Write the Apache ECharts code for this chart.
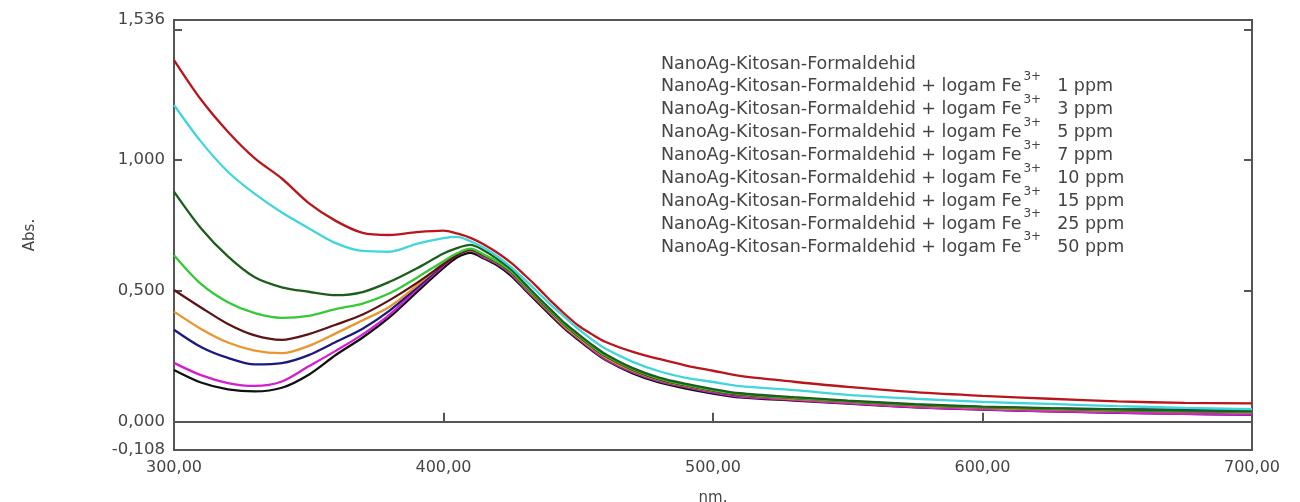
<!DOCTYPE html>
<html>
<head>
<meta charset="utf-8">
<title>Abs. vs nm</title>
<script src="https://cdn.jsdelivr.net/npm/echarts@6/dist/echarts.min.js"></script>
<style>
  html, body { margin: 0; padding: 0; background: #fff; }
  #main { width: 1300px; height: 502px; }
</style>
</head>
<body>
<div id="main"></div>
<script>
// panjang gelombang (nm)
var NM = [300, 310, 320, 330, 340, 350, 360, 370, 380, 390, 400,
  405, 410, 415, 420, 425, 430, 435, 440, 445, 450, 455, 460,
  470, 480, 490, 500, 510,
  530, 550, 575, 600, 625, 650, 675, 700];

// absorbansi tiap sampel
var BASE = [0.198, 0.150, 0.124, 0.116, 0.130, 0.180, 0.255, 0.322, 0.400, 0.495, 0.588,
  0.628, 0.646, 0.624, 0.597, 0.559, 0.507, 0.455, 0.404, 0.355, 0.313, 0.273, 0.237,
  0.186, 0.150, 0.127, 0.108, 0.093,
  0.081, 0.069, 0.055, 0.046, 0.040, 0.034, 0.030, 0.026];
var PPM1 = [0.225, 0.178, 0.148, 0.137, 0.154, 0.212, 0.271, 0.334, 0.410, 0.505, 0.597,
  0.637, 0.655, 0.628, 0.603, 0.565, 0.512, 0.461, 0.410, 0.360, 0.318, 0.277, 0.240,
  0.190, 0.155, 0.132, 0.112, 0.096,
  0.084, 0.071, 0.056, 0.047, 0.040, 0.035, 0.030, 0.027];
var PPM3 = [0.352, 0.286, 0.244, 0.219, 0.224, 0.255, 0.305, 0.356, 0.425, 0.512, 0.602,
  0.640, 0.656, 0.632, 0.606, 0.569, 0.516, 0.464, 0.413, 0.363, 0.321, 0.281, 0.245,
  0.194, 0.158, 0.135, 0.116, 0.101,
  0.089, 0.077, 0.064, 0.056, 0.051, 0.048, 0.046, 0.044];
var PPM5 = [0.421, 0.355, 0.303, 0.272, 0.262, 0.290, 0.338, 0.388, 0.440, 0.520, 0.605,
  0.641, 0.656, 0.633, 0.607, 0.570, 0.517, 0.465, 0.414, 0.364, 0.322, 0.282, 0.246,
  0.195, 0.159, 0.136, 0.117, 0.102,
  0.088, 0.076, 0.062, 0.053, 0.047, 0.042, 0.039, 0.036];
var PPM7 = [0.504, 0.437, 0.374, 0.330, 0.313, 0.335, 0.371, 0.410, 0.465, 0.530, 0.602,
  0.637, 0.658, 0.635, 0.609, 0.573, 0.521, 0.469, 0.419, 0.369, 0.327, 0.287, 0.251,
  0.199, 0.162, 0.139, 0.119, 0.104,
  0.090, 0.078, 0.064, 0.055, 0.049, 0.044, 0.040, 0.037];
var PPM10 = [0.637, 0.527, 0.457, 0.415, 0.397, 0.405, 0.431, 0.452, 0.491, 0.550, 0.614,
  0.644, 0.662, 0.639, 0.612, 0.576, 0.524, 0.472, 0.422, 0.372, 0.330, 0.290, 0.254,
  0.202, 0.165, 0.141, 0.121, 0.106,
  0.091, 0.079, 0.065, 0.056, 0.050, 0.045, 0.041, 0.038];
var PPM15 = [0.880, 0.740, 0.632, 0.552, 0.514, 0.497, 0.484, 0.496, 0.535, 0.586, 0.643,
  0.664, 0.676, 0.655, 0.622, 0.583, 0.530, 0.477, 0.427, 0.377, 0.335, 0.295, 0.259,
  0.206, 0.169, 0.145, 0.125, 0.109,
  0.094, 0.081, 0.067, 0.058, 0.052, 0.047, 0.043, 0.040];
var PPM25 = [1.211, 1.071, 0.956, 0.871, 0.800, 0.740, 0.683, 0.653, 0.650, 0.680, 0.702,
  0.707, 0.690, 0.665, 0.632, 0.592, 0.545, 0.495, 0.445, 0.400, 0.355, 0.315, 0.280,
  0.230, 0.193, 0.168, 0.152, 0.136,
  0.121, 0.103, 0.088, 0.076, 0.068, 0.060, 0.053, 0.048];
var PPM50 = [1.383, 1.232, 1.109, 1.007, 0.930, 0.836, 0.768, 0.722, 0.714, 0.725, 0.731,
  0.720, 0.703, 0.678, 0.646, 0.608, 0.562, 0.513, 0.460, 0.412, 0.368, 0.335, 0.306,
  0.268, 0.240, 0.215, 0.195, 0.175,
  0.153, 0.133, 0.113, 0.099, 0.088, 0.078, 0.072, 0.070];

var NAMES = [
  "NanoAg-Kitosan-Formaldehid",
  "NanoAg-Kitosan-Formaldehid + logam Fe3+ 1 ppm",
  "NanoAg-Kitosan-Formaldehid + logam Fe3+ 3 ppm",
  "NanoAg-Kitosan-Formaldehid + logam Fe3+ 5 ppm",
  "NanoAg-Kitosan-Formaldehid + logam Fe3+ 7 ppm",
  "NanoAg-Kitosan-Formaldehid + logam Fe3+ 10 ppm",
  "NanoAg-Kitosan-Formaldehid + logam Fe3+ 15 ppm",
  "NanoAg-Kitosan-Formaldehid + logam Fe3+ 25 ppm",
  "NanoAg-Kitosan-Formaldehid + logam Fe3+ 50 ppm"
];
var VALUES = [BASE, PPM1, PPM3, PPM5, PPM7, PPM10, PPM15, PPM25, PPM50];
var COLORS = ["#111111", "#d21fd2", "#1a1a80", "#e8962e", "#5c1414",
  "#35c935", "#1d5e1d", "#40d6dc", "#b8161c"];

// label ticks
var Y_LABELS = [-0.108, 0, 0.5, 1, 1.536];
var Y_TICKS = [0, 0.5, 1, 1.5];

var FONT = "DejaVu Sans";
var TEXT_COLOR = "#454545";
var AXIS_COLOR = "#555";

var myChart = echarts.init(document.getElementById("main"));

function comma(v, digits) {
  return v.toFixed(digits).replace(".", ",");
}

function buildSeries() {
  var list = [];
  for (var i = 0; i < NAMES.length; i++) {
    var pts = [];
    for (var j = 0; j < NM.length; j++) {
      pts.push([NM[j], VALUES[i][j]]);
    }
    list.push({
      name: NAMES[i],
      type: "line",
      data: pts,
      showSymbol: false,
      smooth: 0.3,
      color: COLORS[i],
      lineStyle: { width: 2.3, color: COLORS[i] }
    });
  }
  return list;
}

function yAxisSide(pos, labels) {
  return {
    type: "value",
    position: pos,
    min: -0.108,
    max: 1.536,
    splitLine: { show: false },
    axisLine: { show: true, lineStyle: { color: AXIS_COLOR, width: 2 } },
    axisTick: {
      show: true, inside: true, length: 8, customValues: Y_TICKS,
      lineStyle: { color: AXIS_COLOR, width: 2 }
    },
    axisLabel: {
      show: labels,
      customValues: Y_LABELS,
      margin: 9,
      fontFamily: FONT,
      fontSize: 16.5,
      color: TEXT_COLOR,
      formatter: function (v) { return comma(v, 3); }
    }
  };
}

var yLeft = yAxisSide("left", true);
yLeft.name = "Abs.";
yLeft.nameLocation = "middle";
yLeft.nameRotate = 90;
yLeft.nameGap = 136;
yLeft.nameTextStyle = { fontFamily: FONT, fontSize: 15, color: TEXT_COLOR };

myChart.setOption({
  animation: false,
  backgroundColor: "#fff",
  grid: {
    left: 174, right: 48, top: 20, bottom: 52,
    outerBoundsMode: "none",
    containLabel: false,
    show: true, borderColor: AXIS_COLOR, borderWidth: 2
  },
  legend: {
    data: NAMES,
    orient: "vertical",
    left: 650,
    top: 50,
    itemWidth: 0,
    itemHeight: 0,
    itemGap: -2.1,
    selectedMode: false,
    textStyle: {
      fontFamily: FONT,
      fontSize: 17.5,
      lineHeight: 18,
      color: TEXT_COLOR,
      rich: {
        sup: {
          fontFamily: FONT, fontSize: 12, lineHeight: 18, color: TEXT_COLOR,
          verticalAlign: "bottom", padding: [0, 16, 13, 2]
        },
        ppm: { fontFamily: FONT, fontSize: 17.5, lineHeight: 18, color: TEXT_COLOR }
      }
    },
    formatter: function (name) {
      if (name.indexOf("Fe3+ ") < 0) {
        return name;
      }
      var parts = name.split("Fe3+ ");
      return parts[0] + "Fe{sup|3+}{ppm|" + parts[1] + "}";
    }
  },
  xAxis: {
    type: "value",
    min: 300,
    max: 700,
    interval: 100,
    name: "nm.",
    nameLocation: "middle",
    nameGap: 41,
    nameTextStyle: { fontFamily: FONT, fontSize: 15, color: TEXT_COLOR },
    splitLine: { show: false },
    axisLine: { show: true, lineStyle: { color: AXIS_COLOR, width: 2 } },
    axisTick: { show: true, inside: true, length: 9, lineStyle: { color: AXIS_COLOR, width: 2 } },
    axisLabel: {
      margin: 10,
      fontFamily: FONT,
      fontSize: 16,
      color: TEXT_COLOR,
      formatter: function (v) { return comma(v, 2); }
    }
  },
  yAxis: [yLeft, yAxisSide("right", false)],
  series: buildSeries()
});
</script>
</body>
</html>
